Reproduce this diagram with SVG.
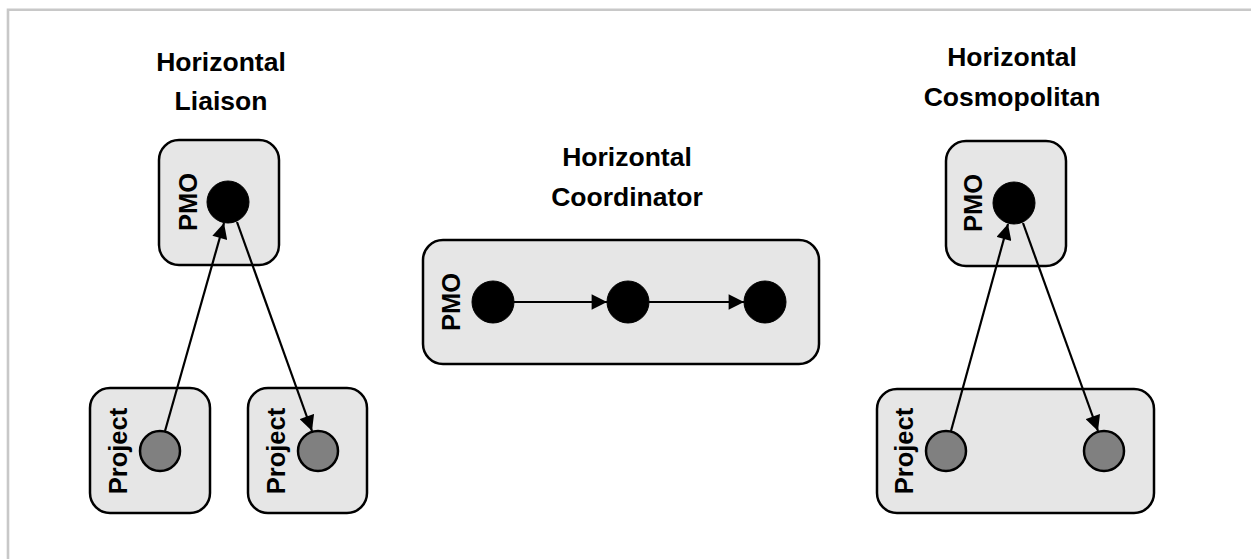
<svg xmlns="http://www.w3.org/2000/svg" width="1251" height="559" viewBox="0 0 1251 559">
<style>
.box{fill:#e6e6e6;stroke:#000;stroke-width:2.5}
.pmo{fill:#000;stroke:#000;stroke-width:1}
.prj{fill:#808080;stroke:#000;stroke-width:2.5}
.t{font-family:"Liberation Sans",Arial,sans-serif;font-weight:bold;font-size:26.5px;fill:#000;text-anchor:middle}
.lbl{font-family:"Liberation Sans",Arial,sans-serif;font-weight:bold;font-size:25.5px;fill:#000;text-anchor:middle}
.c{stroke:#000;stroke-width:2.2;fill:none;marker-end:url(#ah)}
</style>
<defs>
<marker id="ah" viewBox="0 0 10 10" refX="10" refY="5" markerWidth="7.5" markerHeight="7" markerUnits="strokeWidth" orient="auto">
<path d="M0,0 L10,5 L0,10 z" fill="#000"/>
</marker>
</defs>
<rect width="1251" height="559" fill="#fff"/>
<path d="M8,559 V9.7 H1251" fill="none" stroke="#c8c8c8" stroke-width="2.6"/>

<g id="title-liaison"><text class="t" x="221" y="71">Horizontal</text><text class="t" x="221" y="110">Liaison</text></g>
<g id="title-coordinator"><text class="t" x="627" y="166">Horizontal</text><text class="t" x="627" y="206">Coordinator</text></g>
<g id="title-cosmopolitan"><text class="t" x="1012" y="66">Horizontal</text><text class="t" x="1012" y="106">Cosmopolitan</text></g>

<g id="liaison-pmo">
<rect class="box" x="159" y="140" width="120" height="125" rx="20"/>
<text class="lbl" transform="translate(197,202) rotate(-90)">PMO</text>
<circle class="pmo" cx="228" cy="202" r="21"/>
</g>
<g id="liaison-project1">
<rect class="box" x="90" y="388" width="120" height="125" rx="20"/>
<text class="lbl" transform="translate(127,451) rotate(-90)">Project</text>
<circle class="prj" cx="160" cy="451" r="20"/>
</g>
<g id="liaison-project2">
<rect class="box" x="248" y="388" width="119" height="125" rx="20"/>
<text class="lbl" transform="translate(285,451) rotate(-90)">Project</text>
<circle class="prj" cx="318" cy="451" r="20"/>
</g>

<g id="coord-pmo">
<rect class="box" x="423" y="240" width="396" height="124" rx="20"/>
<text class="lbl" transform="translate(460,302) rotate(-90)">PMO</text>
<circle class="pmo" cx="493" cy="302" r="21"/>
<circle class="pmo" cx="628" cy="302" r="21"/>
<circle class="pmo" cx="765" cy="302" r="21"/>
</g>

<g id="cosmo-pmo">
<rect class="box" x="946" y="141" width="120" height="125" rx="20"/>
<text class="lbl" transform="translate(982,203) rotate(-90)">PMO</text>
<circle class="pmo" cx="1014" cy="203" r="21"/>
</g>
<g id="cosmo-project">
<rect class="box" x="877" y="389" width="277" height="124" rx="20"/>
<text class="lbl" transform="translate(913,451) rotate(-90)">Project</text>
<circle class="prj" cx="946" cy="451" r="20"/>
<circle class="prj" cx="1104" cy="451" r="20"/>
</g>

<g id="connectors">
<line class="c" x1="165" y1="431" x2="224" y2="223"/>
<line class="c" x1="237" y1="222" x2="312" y2="431"/>
<line class="c" x1="514" y1="302" x2="607" y2="302"/>
<line class="c" x1="649" y1="302" x2="744" y2="302"/>
<line class="c" x1="951" y1="431" x2="1008" y2="224"/>
<line class="c" x1="1023" y1="223" x2="1098" y2="431"/>
</g>
</svg>
